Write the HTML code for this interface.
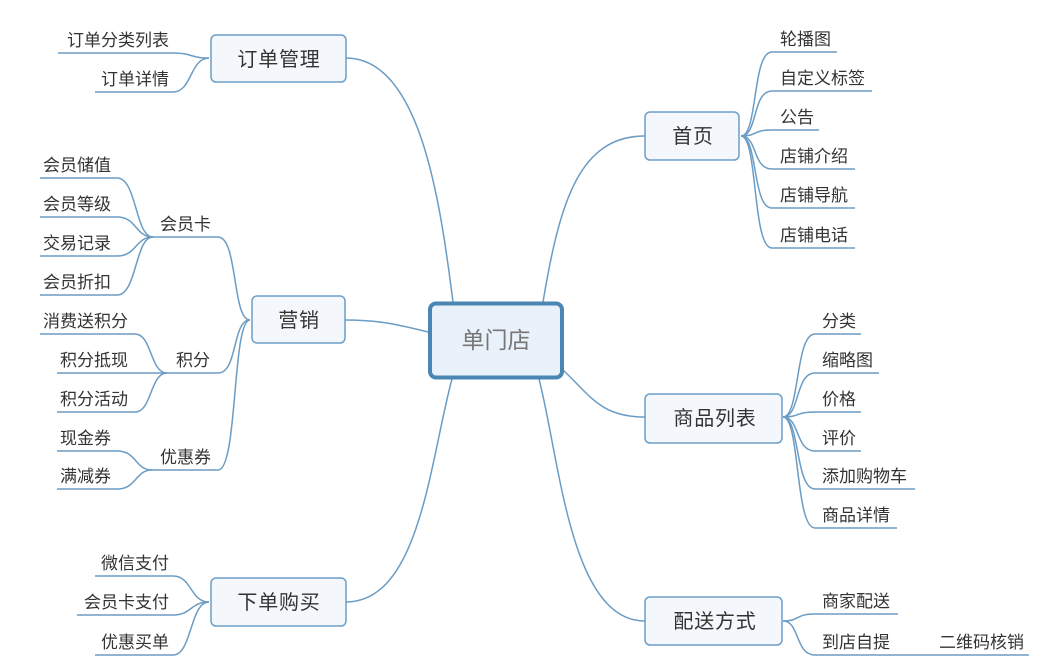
<!DOCTYPE html>
<html><head><meta charset="utf-8"><style>
html,body{margin:0;padding:0;background:#fff;}
svg{display:block;}
text{font-family:"Liberation Sans","Noto Sans CJK SC",sans-serif;fill:#333;}
.leaf{font-size:17px;}
.node{font-size:20px;letter-spacing:0.8px;}
.ln{fill:none;stroke:#6b9cc4;stroke-width:1.5;}
.box{fill:#f4f8fc;stroke:#6d9ec8;stroke-width:1.5;}
</style></head><body>
<svg width="1056" height="666" viewBox="0 0 1056 666" xmlns="http://www.w3.org/2000/svg">
<!-- main connectors -->
<path class="ln" d="M346,58 C420,58 440,200 453,302"/>
<path class="ln" d="M345,320 C380,320 400,325 428,332"/>
<path class="ln" d="M452,379 C430,460 420,602 346,602"/>
<path class="ln" d="M543,302 C560,200 580,136 645,136"/>
<path class="ln" d="M563,370 C590,395 600,417 645,417"/>
<path class="ln" d="M539,379 C560,460 570,621 645,621"/>

<!-- 首页 leaves -->
<path class="ln" d="M741,136 C758,136 752,52 772,52 L837,52"/>
<path class="ln" d="M741,136 C758,136 752,91 772,91 L872,91"/>
<path class="ln" d="M741,136 C758,136 752,130 772,130 L819,130"/>
<path class="ln" d="M741,136 C758,136 752,169 772,169 L855,169"/>
<path class="ln" d="M741,136 C758,136 752,208 772,208 L855,208"/>
<path class="ln" d="M741,136 C758,136 752,248 772,248 L855,248"/>

<!-- 商品列表 leaves -->
<path class="ln" d="M783,417 C800,417 795,334 815,334 L861,334"/>
<path class="ln" d="M783,417 C800,417 795,373 815,373 L879,373"/>
<path class="ln" d="M783,417 C800,417 795,412 815,412 L861,412"/>
<path class="ln" d="M783,417 C800,417 795,451 815,451 L861,451"/>
<path class="ln" d="M783,417 C800,417 795,489 815,489 L915,489"/>
<path class="ln" d="M783,417 C800,417 795,528 815,528 L897,528"/>

<!-- 配送方式 leaves -->
<path class="ln" d="M783,621 C800,621 795,614 815,614 L898,614"/>
<path class="ln" d="M783,621 C800,621 795,655 815,655 L1029,655"/>

<!-- 订单管理 leaves -->
<path class="ln" d="M209,58 C190,58 192,53 173,53 L58,53"/>
<path class="ln" d="M209,58 C190,58 192,92 173,92 L95,92"/>

<!-- 营销 children -->
<path class="ln" d="M250,320 C232,320 238,237 218,237 L153,237"/>
<path class="ln" d="M250,320 C232,320 238,373 218,373 L167,373"/>
<path class="ln" d="M250,320 C232,320 238,470 218,470 L152,470"/>

<!-- 会员卡 leaves -->
<path class="ln" d="M153,237 C135,237 137,178 117,178 L40,178"/>
<path class="ln" d="M153,237 C135,237 137,217 117,217 L40,217"/>
<path class="ln" d="M153,237 C135,237 137,256 117,256 L40,256"/>
<path class="ln" d="M153,237 C135,237 137,295 117,295 L40,295"/>

<!-- 积分 leaves -->
<path class="ln" d="M167,373 C150,373 152,334 135,334 L40,334"/>
<path class="ln" d="M167,373 L57,373"/>
<path class="ln" d="M167,373 C150,373 152,412 135,412 L57,412"/>

<!-- 优惠券 leaves -->
<path class="ln" d="M152,470 C135,470 137,451 117,451 L57,451"/>
<path class="ln" d="M152,470 C135,470 137,489 117,489 L57,489"/>

<!-- 下单购买 leaves -->
<path class="ln" d="M209,602 C190,602 192,576 173,576 L95,576"/>
<path class="ln" d="M209,602 C190,602 192,615 173,615 L77,615"/>
<path class="ln" d="M209,602 C190,602 192,655 173,655 L95,655"/>

<!-- central node -->
<rect x="430" y="303.5" width="132" height="74" rx="6" ry="6" fill="#e9f1fa" stroke="#4a86b4" stroke-width="4"/>
<text x="496" y="348" text-anchor="middle" style="font-size:23px;fill:#777;">单门店</text>

<!-- main nodes -->
<rect class="box" x="211" y="35" width="135" height="47" rx="5"/>
<text class="node" x="279" y="66" text-anchor="middle">订单管理</text>

<rect class="box" x="252" y="296" width="93" height="47" rx="5"/>
<text class="node" x="299" y="327" text-anchor="middle">营销</text>

<rect class="box" x="211" y="578" width="135" height="48" rx="5"/>
<text class="node" x="279" y="609" text-anchor="middle">下单购买</text>

<rect class="box" x="645" y="112" width="94" height="48" rx="5"/>
<text class="node" x="693" y="143" text-anchor="middle">首页</text>

<rect class="box" x="645" y="394" width="137" height="49" rx="5"/>
<text class="node" x="715" y="425" text-anchor="middle">商品列表</text>

<rect class="box" x="645" y="597" width="137" height="48" rx="5"/>
<text class="node" x="715" y="628" text-anchor="middle">配送方式</text>

<!-- right leaf texts -->
<text class="leaf" x="780" y="45">轮播图</text>
<text class="leaf" x="780" y="84">自定义标签</text>
<text class="leaf" x="780" y="123">公告</text>
<text class="leaf" x="780" y="162">店铺介绍</text>
<text class="leaf" x="780" y="201">店铺导航</text>
<text class="leaf" x="780" y="241">店铺电话</text>

<text class="leaf" x="822" y="327">分类</text>
<text class="leaf" x="822" y="366">缩略图</text>
<text class="leaf" x="822" y="405">价格</text>
<text class="leaf" x="822" y="444">评价</text>
<text class="leaf" x="822" y="482">添加购物车</text>
<text class="leaf" x="822" y="521">商品详情</text>

<text class="leaf" x="822" y="607">商家配送</text>
<text class="leaf" x="822" y="648">到店自提</text>
<text class="leaf" x="939" y="648">二维码核销</text>

<!-- left leaf texts -->
<text class="leaf" x="169" y="46" text-anchor="end">订单分类列表</text>
<text class="leaf" x="169" y="85" text-anchor="end">订单详情</text>

<text class="leaf" x="211" y="230" text-anchor="end">会员卡</text>
<text class="leaf" x="210" y="366" text-anchor="end">积分</text>
<text class="leaf" x="211" y="463" text-anchor="end">优惠券</text>

<text class="leaf" x="43" y="171">会员储值</text>
<text class="leaf" x="43" y="210">会员等级</text>
<text class="leaf" x="43" y="249">交易记录</text>
<text class="leaf" x="43" y="288">会员折扣</text>

<text class="leaf" x="43" y="327">消费送积分</text>
<text class="leaf" x="60" y="366">积分抵现</text>
<text class="leaf" x="60" y="405">积分活动</text>

<text class="leaf" x="60" y="444">现金券</text>
<text class="leaf" x="60" y="482">满减券</text>

<text class="leaf" x="169" y="569" text-anchor="end">微信支付</text>
<text class="leaf" x="169" y="608" text-anchor="end">会员卡支付</text>
<text class="leaf" x="169" y="648" text-anchor="end">优惠买单</text>
</svg>
</body></html>
